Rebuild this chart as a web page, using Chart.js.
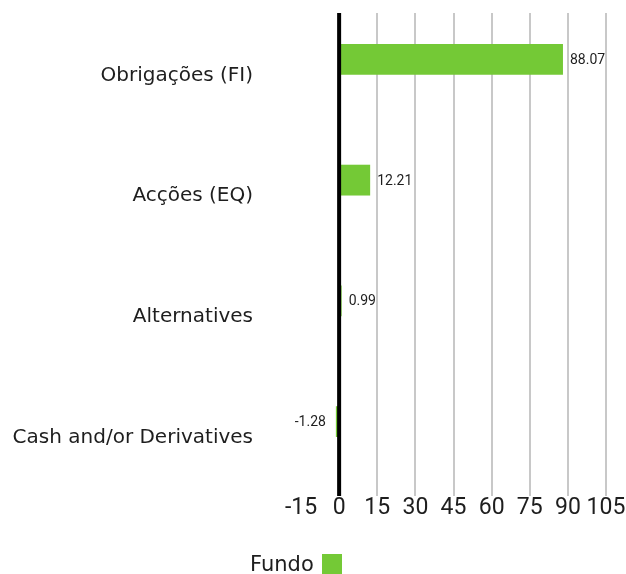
<!DOCTYPE html>
<html>
<head>
<meta charset="utf-8">
<script src="https://cdn.jsdelivr.net/npm/chart.js@4.4.1/dist/chart.umd.min.js"></script>
<style>
  html,body{margin:0;padding:0;background:#fff;}
  #wrap{position:relative;width:626px;height:574px;overflow:hidden;}
  #legend{position:absolute;left:250px;top:552px;display:flex;align-items:center;
    font:21px "DejaVu Sans", sans-serif;color:#1e1e1e;}
  #legend .box{display:inline-block;width:20px;height:20px;background:#74C936;margin-left:8px;}
</style>
</head>
<body>
<div id="wrap">
  <canvas id="chart" width="626" height="574"></canvas>
  <div id="legend"><span>Fundo</span><span class="box"></span></div>
</div>
<script>
/* ===== Data ===== */
const categories = ['Obrigações (FI)', 'Acções (EQ)', 'Alternatives', 'Cash and/or Derivatives'];
const fundValues = [88.07, 12.21, 0.99, -1.28];
// second slot in each group is empty in the source (no benchmark shown)
const benchmarkValues = [null, null, null, null];
const axisMin = -15, axisMax = 105, axisStep = 15;

const GREEN = '#74C936';
const TEXT = '#1e1e1e';

/* ===== Zero line + value labels ===== */
const overlayPlugin = {
  id: 'overlay',
  afterDatasetsDraw(chart){
    const {ctx, chartArea, scales:{x}} = chart;
    const x0 = x.getPixelForValue(0);
    ctx.save();
    ctx.fillStyle = '#000';
    ctx.fillRect(x0 - 2, chartArea.top, 4, chartArea.bottom - chartArea.top);

    ctx.font = '14px Roboto, sans-serif';
    ctx.fillStyle = TEXT;
    ctx.textBaseline = 'middle';
    chart.getDatasetMeta(0).data.forEach((bar, i)=>{
      const v = fundValues[i];
      if(v >= 0){ ctx.textAlign = 'left'; ctx.fillText(v.toFixed(2), bar.x + 7, bar.y + 1); }
      else { ctx.textAlign = 'right'; ctx.fillText(v.toFixed(2), bar.x - 10, bar.y + 1); }
    });
    ctx.restore();
  }
};

new Chart(document.getElementById('chart'), {
  type: 'bar',
  data: {
    labels: categories,
    datasets: [
      { label:'Fundo', data: fundValues, backgroundColor: GREEN,
        categoryPercentage: .464, barPercentage: 1.1 },
      { label:'', data: benchmarkValues, backgroundColor: 'transparent',
        categoryPercentage: .464, barPercentage: 1.1 }
    ]
  },
  options: {
    indexAxis: 'y',
    responsive: false,
    animation: false,
    layout: { padding: { top: 13, bottom: 0, left: 0, right: 20 } },
    plugins: { legend: { display: false }, tooltip: { enabled: false } },
    scales: {
      x: {
        min: axisMin, max: axisMax,
        ticks: { stepSize: axisStep, padding: -2, maxRotation: 0, minRotation: 0, autoSkip: false,
                 color: TEXT, font: { size: 23, family: 'Roboto' } },
        grid: {
          drawTicks: false, lineWidth: 2,
          color: c => (c.tick && (c.tick.value === axisMin || c.tick.value === 0)) ? 'rgba(0,0,0,0)' : '#C8C8C8'
        },
        border: { display: false },
        afterFit: s => { s.height = 78; }
      },
      y: {
        // hidden grid; tick length only used as the gap between labels and plot
        grid: { display: false, drawTicks: true, tickLength: 48 },
        border: { display: false },
        ticks: { padding: 0, labelOffset: 2, color: TEXT, font: { size: 20, family: 'DejaVu Sans' } },
        afterFit: s => { s.width = 301; }
      }
    }
  },
  plugins: [overlayPlugin]
});
</script>
</body>
</html>
